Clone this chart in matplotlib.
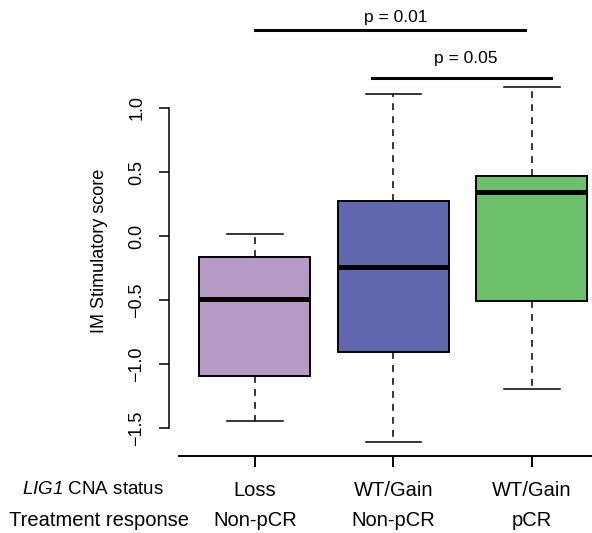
import matplotlib
matplotlib.use('Agg')
import matplotlib.pyplot as plt
import matplotlib.transforms as mtransforms

plt.rcParams['font.family'] = ['Liberation Sans', 'DejaVu Sans']
plt.rcParams['mathtext.fontset'] = 'custom'
plt.rcParams['mathtext.it'] = 'Liberation Sans:italic'
plt.rcParams['mathtext.rm'] = 'Liberation Sans:italic'

# data
cna_status = ['Loss', 'WT/Gain', 'WT/Gain']
response = ['Non-pCR', 'Non-pCR', 'pCR']
medians = [-0.49, -0.24, 0.345]
q1 = [-1.09, -0.905, -0.51]
q3 = [-0.165, 0.27, 0.47]
whis_lo = [-1.445, -1.605, -1.195]
whis_hi = [0.015, 1.11, 1.165]
colors = ['#b89ac8', '#5f67af', '#6cc06a']
pvals = ['p = 0.01', 'p = 0.05']
yticks = [-1.5, -1.0, -0.5, 0.0, 0.5, 1.0]

W, H = 592, 533
fig = plt.figure(figsize=(W / 100, H / 100), dpi=100)
ax = fig.add_axes([169 / W, 1 - 456 / H, 1 - 169 / W, (456 - 73.8) / H])

stats = [dict(med=m, q1=a, q3=b, whislo=lo, whishi=hi, fliers=[])
         for m, a, b, lo, hi in zip(medians, q1, q3, whis_lo, whis_hi)]
bp = ax.bxp(stats, positions=[1, 2, 3], widths=0.8, capwidths=0.4,
            patch_artist=True, showfliers=False,
            boxprops=dict(linewidth=1.4, edgecolor='black'),
            medianprops=dict(color='black', linewidth=3.6, solid_capstyle='butt'),
            whiskerprops=dict(linestyle=(0, (4.5, 4)), linewidth=1.1, color='black'),
            capprops=dict(linewidth=1.1, color='black'))
for patch, c in zip(bp['boxes'], colors):
    patch.set_facecolor(c)

ax.set_xlim(0.38, 0.38 + (W - 169) / 138.5)
ax.set_ylim(-1.718, 1.267)

ax.set_yticks(yticks)
ax.set_yticklabels(['{:.1f}'.format(v).replace('-', '\u2212') for v in yticks])
ax.tick_params(axis='y', length=7, width=1.1, pad=10, labelrotation=90, labelsize=13)
for lab in ax.get_yticklabels():
    lab.set_va('center')
ax.set_xticks([1, 2, 3])
ax.set_xticklabels([])
ax.tick_params(axis='x', length=8, width=1.4)

for s in ['top', 'right']:
    ax.spines[s].set_visible(False)
ax.spines['left'].set_bounds(-1.5, 1.0)
ax.spines['left'].set_linewidth(1.1)
ax.spines['bottom'].set_bounds(0.45, 3.434)
ax.spines['bottom'].set_linewidth(1.4)

fig.text(100 / W, 1 - 251 / H, 'IM Stimulatory score', rotation=90,
         ha='center', va='center', fontsize=13)

# p-value brackets
ax.plot([1.0, 2.95], [1.609, 1.609], color='black', lw=2.2, clip_on=False)
ax.text(2.02, 1.71, pvals[0], ha='center', va='center', fontsize=12.5)
ax.plot([1.845, 3.14], [1.234, 1.234], color='black', lw=2.2, clip_on=False)
ax.text(2.52, 1.383, pvals[1], ha='center', va='center', fontsize=12.5)

# group labels under the axis
trans = mtransforms.blended_transform_factory(ax.transData, fig.transFigure)
for i in range(3):
    ax.text(i + 1, 1 - 490 / H, cna_status[i], transform=trans,
            ha='center', va='center', fontsize=14.5)
    ax.text(i + 1, 1 - 520 / H, response[i], transform=trans,
            ha='center', va='center', fontsize=14.5)
fig.text(22 / W, 1 - 490 / H, r'$LIG1$ CNA status', ha='left', va='center', fontsize=13.5)
fig.text(9 / W, 1 - 520 / H, 'Treatment response', ha='left', va='center', fontsize=14.5)

fig.savefig('out.png', dpi=100)
